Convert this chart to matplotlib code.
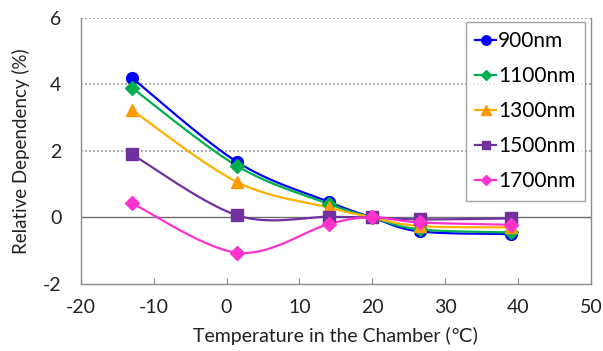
import numpy as np
import matplotlib
matplotlib.use("Agg")
import matplotlib.pyplot as plt
from matplotlib.lines import Line2D

temps = [-13, 1.5, 14, 20, 26.5, 39]
series_names = ["900nm", "1100nm", "1300nm", "1500nm", "1700nm"]
v900 = [4.2, 1.66, 0.47, 0.0, -0.42, -0.50]
v1100 = [3.9, 1.54, 0.41, 0.0, -0.36, -0.45]
v1300 = [3.23, 1.06, 0.30, 0.0, -0.26, -0.30]
v1500 = [1.9, 0.06, 0.02, 0.0, -0.06, -0.03]
v1700 = [0.43, -1.06, -0.20, 0.0, -0.15, -0.22]
values = [v900, v1100, v1300, v1500, v1700]

line_colors = ["#0000FF", "#00B050", "#FFB000", "#7030A0", "#FF33CC"]
marker_colors = ["#0000FF", "#00B050", "#FF9900", "#7030A0", "#FF33CC"]
markers = ["o", "D", "^", "s", "D"]
msizes = [8.5, 7, 8.5, 8, 7]

xticks = [-20, -10, 0, 10, 20, 30, 40, 50]
yticks = [-2, 0, 2, 4, 6]

plt.rcParams['font.family'] = ['Lato', 'DejaVu Sans']


def smooth(x, y, n=30):
    x = np.asarray(x, float)
    y = np.asarray(y, float)
    px = np.concatenate([[x[0]], x, [x[-1]]])
    py = np.concatenate([[y[0]], y, [y[-1]]])
    xs, ys = [], []
    t = np.linspace(0, 1, n)
    for i in range(1, len(px) - 2):
        p0 = np.array([px[i], py[i]])
        p3 = np.array([px[i + 1], py[i + 1]])
        c1 = p0 + (np.array([px[i + 1], py[i + 1]]) - np.array([px[i - 1], py[i - 1]])) / 6
        c2 = p3 - (np.array([px[i + 2], py[i + 2]]) - np.array([px[i], py[i]])) / 6
        b = ((1 - t) ** 3)[:, None] * p0 + (3 * (1 - t) ** 2 * t)[:, None] * c1 + \
            (3 * (1 - t) * t ** 2)[:, None] * c2 + (t ** 3)[:, None] * p3
        xs.extend(b[:, 0])
        ys.extend(b[:, 1])
    return np.array(xs), np.array(ys)


fig = plt.figure(figsize=(6.03, 3.51), dpi=100)
ax = fig.add_axes([0.134, 0.191, 0.846, 0.758])
ax.set_xlim(-20, 50)
ax.set_ylim(-2, 6)

for yv in [2, 4, 6]:
    ax.axhline(yv, color="#A0A0A0", lw=1.2, ls=(0, (1.2, 1.2)), zorder=1)
ax.axhline(0, color="#6E6E6E", lw=1.0, zorder=1)

handles = []
for name, vals, lc, mc, mk, ms in zip(series_names, values, line_colors, marker_colors, markers, msizes):
    sx, sy = smooth(temps, vals)
    ax.plot(sx, sy, color=lc, lw=1.6, zorder=2)
    ax.plot(temps, vals, ls="none", marker=mk, ms=ms, color=mc, zorder=3)
    handles.append(Line2D([], [], color=lc, lw=1.6, marker=mk, ms=ms * 0.8, markerfacecolor=mc, markeredgecolor=mc))

for s in ["left", "bottom", "right"]:
    ax.spines[s].set_color("#8C8C8C")
    ax.spines[s].set_linewidth(1.0)
ax.spines["top"].set_visible(False)

ax.set_xticks(xticks)
ax.set_yticks(yticks)
ax.set_xticklabels([str(v) for v in xticks])
ax.set_yticklabels([str(v) for v in yticks])
ax.tick_params(axis="x", direction="in", length=4, color="#8C8C8C", labelsize=14, pad=11, labelcolor="#222222")
ax.tick_params(axis="y", direction="out", length=0, labelsize=14, pad=14, labelcolor="#222222")

ax.set_xlabel("Temperature in the Chamber (\u2103)", fontsize=14, color="#222222", labelpad=8)
ax.set_ylabel("Relative Dependency (%)", fontsize=13.5, color="#222222", labelpad=9)

leg = ax.legend(handles, series_names, loc="upper right", bbox_to_anchor=(0.988, 0.985),
                fontsize=15, frameon=True, fancybox=False, edgecolor="#8C8C8C",
                handlelength=1.0, handletextpad=0.1, labelspacing=0.72, borderpad=0.45,
                borderaxespad=0.0)
leg.get_frame().set_linewidth(1.0)

fig.savefig("out.png", dpi=100, facecolor="white")
